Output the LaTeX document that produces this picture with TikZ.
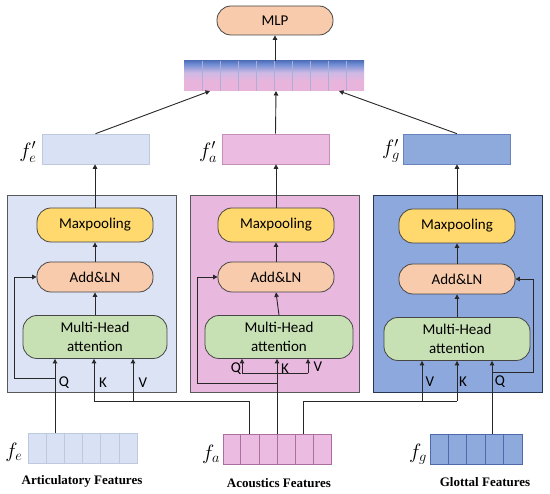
\documentclass[tikz,border=0pt]{standalone}
\usepackage{fontspec}
\setmainfont{Liberation Serif}
\newfontfamily\boxfont{Carlito}
\usetikzlibrary{arrows.meta,calc}
\definecolor{lpanel}{RGB}{219,227,245}
\definecolor{apanel}{RGB}{233,184,223}
\definecolor{gpanel}{RGB}{140,168,220}
\definecolor{gborder}{RGB}{40,55,85}
\definecolor{ymp}{RGB}{255,217,110}
\definecolor{salm}{RGB}{248,203,173}
\definecolor{grn}{RGB}{199,224,180}
\definecolor{bdr}{RGB}{70,70,70}
\definecolor{lnc}{RGB}{40,40,40}
\definecolor{bardark}{RGB}{40,70,150}
\definecolor{barmid}{RGB}{110,140,210}
\definecolor{barlav}{RGB}{205,185,228}
\definecolor{barpink}{RGB}{232,180,220}
\definecolor{barcell}{RGB}{170,175,215}
\definecolor{efill}{RGB}{217,225,244}
\definecolor{eline}{RGB}{190,200,222}
\definecolor{afill}{RGB}{235,187,225}
\definecolor{aline}{RGB}{170,110,160}
\definecolor{gfill}{RGB}{142,169,219}
\definecolor{gline}{RGB}{80,105,170}
\pgfdeclareverticalshading{barshade}{100bp}{color(0bp)=(barpink); color(42bp)=(barpink); color(56bp)=(barlav); color(70bp)=(barmid); color(84bp)=(bardark); color(100bp)=(bardark)}
\tikzset{
  panelbox/.style={draw=gray!70!black, line width=0.8pt, minimum width=169pt, minimum height=197pt},
  pill/.style={draw=bdr, line width=0.8pt, rounded corners=14pt, font=\boxfont\fontsize{15}{19}\selectfont, align=center, inner sep=0pt},
  mpbox/.style={pill, fill=ymp, minimum width=116pt, minimum height=34pt},
  albox/.style={pill, fill=salm, minimum width=116pt, minimum height=30pt},
  mhbox/.style={pill, fill=grn, minimum width=146pt, minimum height=43pt},
  featbox/.style={minimum width=107pt, minimum height=30pt, inner sep=0pt, line width=0.6pt},
  arr/.style={draw=lnc, line width=0.9pt, -{Triangle[length=4.5pt,width=4.5pt]}},
  ln/.style={draw=lnc, line width=0.9pt},
  qkv/.style={font=\boxfont\fontsize{15}{18}\selectfont, inner sep=0pt},
  flab/.style={font=\fontsize{22}{24}\selectfont, inner sep=0pt},
  bottomlab/.style={font=\bfseries\fontsize{13}{15}\selectfont, inner sep=0pt},
}
\begin{document}
\begin{tikzpicture}[x=1pt,y=-1pt]
\useasboundingbox (0,0) rectangle (550,494);
\fill[white] (0,0) rectangle (550,494);

% panels
\node[panelbox, fill=lpanel] (pe) at (91.5,293.5) {};
\node[panelbox, fill=apanel] (pa) at (274.5,293.5) {};
\node[panelbox, fill=gpanel, draw=gborder] (pg) at (457.5,293.5) {};

% inner boxes
\node[mpbox] (mpe) at (95,225) {Maxpooling};
\node[albox] (ale) at (95,277) {Add\&LN};
\node[mhbox, minimum width=144pt] (mhe) at (95,337) {Multi-Head\\attention};

\node[mpbox] (mpa) at (276,225) {Maxpooling};
\node[albox] (ala) at (276,277) {Add\&LN};
\node[mhbox, minimum width=148pt] (mha) at (279,337) {Multi-Head\\attention};

\node[mpbox] (mpg) at (457,226) {Maxpooling};
\node[albox] (alg) at (457,279) {Add\&LN};
\node[mhbox] (mhg) at (457,339) {Multi-Head\\attention};

% f' boxes
\node[featbox, fill=efill, draw=eline] (fpe) at (95.5,149) {};
\node[featbox, fill=afill, draw=aline!60!afill] (fpa) at (275.5,149) {};
\node[featbox, fill=gfill, draw=gline!60!gfill] (fpg) at (457,149) {};
\node[flab] (lfpe) at (28,152) {$f'_e$};
\node[flab] (lfpa) at (208,152) {$f'_a$};
\node[flab] (lfpg) at (391,151) {$f'_g$};

% concatenated bar
\node[minimum width=180pt, minimum height=30pt, inner sep=0pt, shading=barshade] (bar) at (274,76) {};
\foreach \i in {1,...,9}
  \draw[draw=barcell, line width=0.6pt] ($(bar.north west)!\i/10!(bar.north east)$) -- ($(bar.south west)!\i/10!(bar.south east)$);
\node[pill, fill=salm, minimum width=116pt, minimum height=29pt] (mlp) at (275,20.5) {MLP};

% input feature boxes
\node[featbox, minimum width=109pt, fill=efill, draw=eline] (fe) at (82.5,448) {};
\node[featbox, minimum width=108pt, fill=afill, draw=aline] (fa) at (277,449) {};
\node[featbox, minimum width=92pt, fill=gfill, draw=gline] (fg) at (476,449) {};
\foreach \i in {1,...,5}
  \draw[draw=eline, line width=0.6pt] ($(fe.north west)!\i/6!(fe.north east)$) -- ($(fe.south west)!\i/6!(fe.south east)$);
\foreach \i in {1,...,5}
  \draw[draw=aline, line width=0.6pt] ($(fa.north west)!\i/6!(fa.north east)$) -- ($(fa.south west)!\i/6!(fa.south east)$);
\foreach \i in {1,...,4}
  \draw[draw=gline, line width=0.6pt] ($(fg.north west)!\i/5!(fg.north east)$) -- ($(fg.south west)!\i/5!(fg.south east)$);
\node[flab] (lfe) at (14,452) {$f_e$};
\node[flab] (lfa) at (211,454) {$f_a$};
\node[flab] (lfg) at (418,454) {$f_g$};
\node[bottomlab] (tfe) at (82,481) {Articulatory Features};
\node[bottomlab] (tfa) at (279,483) {Acoustics Features};
\node[bottomlab] (tfg) at (485,482) {Glottal Features};

% top connectors
\coordinate (bl) at (210,91);
\coordinate (bm) at (276,91);
\coordinate (br) at (339,91);
\draw[arr] (bar.north -| mlp.south) -- (mlp.south);
\draw[arr] (fpe.north) -- (bl);
\draw[arr] (fpa.north) -- (bm);
\draw[arr] (fpg.north) -- (br);

% panel -> f'
\draw[arr] (mpe.north) -- (fpe.south -| mpe.north);
\draw[arr] (mpa.north) -- (fpa.south -| mpa.north);
\draw[arr] (mpg.north) -- (fpg.south -| mpg.north);
\foreach \s in {e,a,g}{
  \draw[arr] (al\s.north) -- (mp\s.south);
  \draw[arr] (mh\s.north) -- (al\s.south);
}

% ---- left panel inputs
\coordinate (qe) at (55,378);
\coordinate (ke) at (94,401);
\coordinate (ve) at (133,401);
\coordinate (bus1) at (249,401);
\draw[arr] (fe.north -| qe) -- (mhe.south -| qe);
\draw[arr] (qe) -- (14,378) |- (ale.west);
\draw[ln] (fa.north -| bus1) -- (bus1) -- (ke);
\draw[arr] (ke) -- (mhe.south -| ke);
\draw[arr] (ve) -- (mhe.south -| ve);
\node[qkv] (lqe) at (64,383) {Q};
\node[qkv] (lke) at (103,383) {K};
\node[qkv] (lve) at (143,383) {V};

% ---- middle panel inputs
\coordinate (qa) at (242,373);
\coordinate (ka) at (277,373);
\coordinate (va) at (308,373);
\coordinate (ra) at (277,383);
\draw[arr] (fa.north -| ka) -- (mha.south -| ka);
\draw[ln] (qa) -- (va);
\draw[arr] (qa) -- (mha.south -| qa);
\draw[arr] (va) -- (mha.south -| va);
\draw[arr] (ra) -- (197,383) |- (ala.west);
\node[qkv] (lqa) at (236,369) {Q};
\node[qkv] (lka) at (285,369) {K};
\node[qkv] (lva) at (318,367) {V};

% ---- right panel inputs
\coordinate (qg) at (492,372);
\coordinate (kg) at (457,401);
\coordinate (vg) at (422,401);
\coordinate (bus2) at (303,401);
\draw[arr] (fg.north -| qg) -- (mhg.south -| qg);
\draw[arr] (qg) -- (533,372) |- (alg.east);
\draw[ln] (fa.north -| bus2) -- (bus2) -- (kg);
\draw[arr] (kg) -- (mhg.south -| kg);
\draw[arr] (vg) -- (mhg.south -| vg);
\node[qkv] (lvg) at (430,382) {V};
\node[qkv] (lkg) at (463,382) {K};
\node[qkv] (lqg) at (500,382) {Q};
\end{tikzpicture}
\end{document}
